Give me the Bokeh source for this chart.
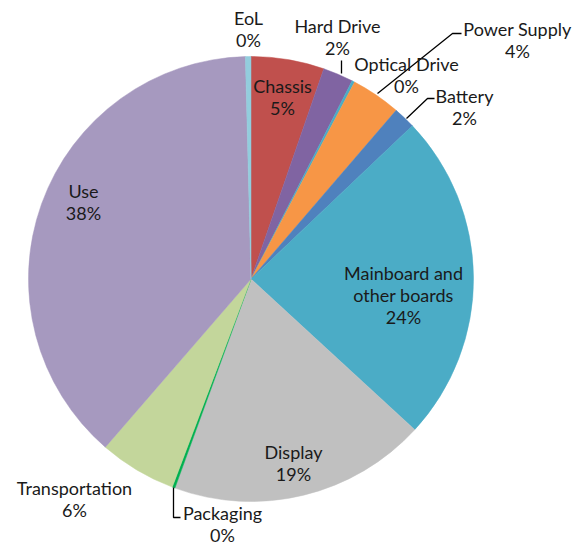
import math
from bokeh.plotting import figure
from bokeh.models import ColumnDataSource, Range1d
from bokeh.core.properties import value
from bokeh.embed import file_html
from bokeh.resources import INLINE

# ---- data (clockwise from 12 o'clock) ----
categories = ["Chassis", "Hard Drive", "Optical Drive", "Power Supply", "Battery",
              "Mainboard and\nother boards", "Display", "Packaging", "Transportation",
              "Use", "EoL"]
shares = [5.3, 2.2, 0.2, 3.6, 1.6, 23.9, 18.7, 0.2, 5.6, 38.2, 0.4]
pct_labels = ["5%", "2%", "0%", "4%", "2%", "24%", "19%", "0%", "6%", "38%", "0%"]

# ---- style / layout ----
colors = ["#C0504D", "#8064A2", "#4BACC6", "#F79646", "#4F81BD", "#4BACC6",
          "#C0C0C0", "#00B050", "#C3D69B", "#A699BF", "#93CDDD"]
W, H = 583, 548
PAGE_H = 548
CX, CY, R = 250.5, 278.5, 222.5  # page pixel coords

def py(y):
    return PAGE_H - y

# label centres (page pixels) of the first text line
label_pos = {
    "Chassis": (282, 85), "Hard Drive": (337, 25), "Optical Drive": (406, 63),
    "Power Supply": (517, 28), "Battery": (464, 95),
    "Mainboard and\nother boards": (403, 272), "Display": (293, 451),
    "Packaging": (222, 512), "Transportation": (74, 487), "Use": (83, 190),
    "EoL": (248, 17),
}
leaders = [
    [(341, 60), (341, 73)],
    [(377, 93), (452, 33), (461, 33)],
    [(406, 118), (427, 98), (434, 98)],
    [(173, 487), (173, 517), (180, 517)],
]
LINE = 22

p = figure(width=W, height=H, output_backend="svg", toolbar_location=None,
           x_range=Range1d(0, W), y_range=Range1d(PAGE_H - H, PAGE_H),
           min_border=0)
p.axis.visible = False
p.grid.visible = False
p.outline_line_color = None
p.background_fill_color = "white"

total = sum(shares)
starts, ends = [], []
cum = 0.0
for s in shares:
    a0 = cum / total
    cum += s
    a1 = cum / total
    starts.append(math.pi / 2 - 2 * math.pi * a1)
    ends.append(math.pi / 2 - 2 * math.pi * a0)

src = ColumnDataSource(dict(start=starts, end=ends, color=colors))
p.wedge(x=CX, y=py(CY), radius=R, start_angle="start", end_angle="end",
        fill_color="color", line_color="color", line_width=0.5, source=src)

for pts in leaders:
    p.line([q[0] for q in pts], [py(q[1]) for q in pts], line_color="black", line_width=1.3)

tx, ty, tt = [], [], []
for cat, pl in zip(categories, pct_labels):
    x, y = label_pos[cat]
    lines = cat.split("\n") + [pl]
    for i, ln in enumerate(lines):
        tx.append(x)
        ty.append(py(y + i * LINE))
        tt.append(ln)

p.text(x=tx, y=ty, text=tt, text_font=value("Lato"), text_font_size="18px",
       text_color="#1a1a1a", text_align="center", text_baseline="middle")

open("out.html", "w").write(file_html(p, INLINE))
